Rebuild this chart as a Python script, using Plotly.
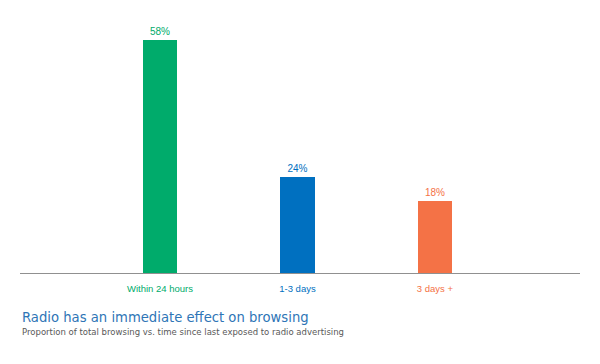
import plotly.graph_objects as go

categories = ["Within 24 hours", "1-3 days", "3 days +"]
values = [58, 24, 18]
labels = ["58%", "24%", "18%"]
colors = ["#00AB6B", "#0070C0", "#F47246"]

x_pos = list(range(len(categories)))

fig = go.Figure()
fig.add_trace(go.Bar(
    x=x_pos, y=values, width=0.25,
    marker=dict(color=colors, line=dict(width=0)),
    text=labels, textposition="outside", cliponaxis=False,
    textfont=dict(color=colors, size=10, family="Liberation Sans"),
    hoverinfo="skip",
))

ticktext = [f"<span style='color:{c}'>{t}</span>" for t, c in zip(categories, colors)]

fig.update_layout(
    width=592, height=356,
    margin=dict(l=12, r=20, t=22, b=90),
    plot_bgcolor="white", paper_bgcolor="white",
    showlegend=False,
    bargap=0,
    xaxis=dict(range=[-1.018, 3.055], tickvals=x_pos, ticktext=ticktext,
               showgrid=False, zeroline=False, showline=False,
               ticks="", ticklabelstandoff=7,
               tickfont=dict(size=9.5, family="Liberation Sans")),
    yaxis=dict(range=[0, 60.5], visible=False, showgrid=False, zeroline=False),
    shapes=[dict(type="line", xref="paper", yref="y", x0=0, x1=1, y0=0, y1=0,
                 line=dict(color="#909090", width=2))],
    annotations=[
        dict(text="Radio has an immediate effect on browsing", xref="paper", yref="paper",
             x=0.0, y=-0.178, xanchor="left", yanchor="middle", showarrow=False,
             font=dict(size=13.2, color="#2E75B6", family="DejaVu Sans")),
        dict(text="Proportion of total browsing vs. time since last exposed to radio advertising",
             xref="paper", yref="paper", x=0.0, y=-0.236, xanchor="left", yanchor="middle",
             showarrow=False, font=dict(size=8.5, color="#595959", family="DejaVu Sans")),
    ],
)

fig.write_html("out.html")
